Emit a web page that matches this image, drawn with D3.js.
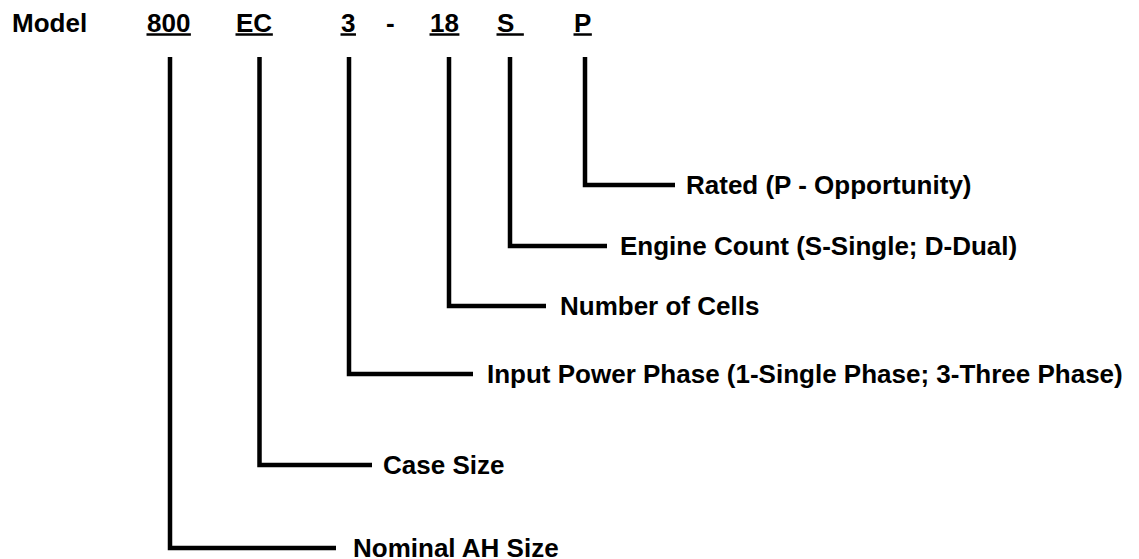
<!DOCTYPE html>
<html>
<head>
<meta charset="utf-8">
<script src="https://cdn.jsdelivr.net/npm/d3@7"></script>
<style>
  html, body { margin: 0; padding: 0; background: #fff; }
  svg { display: block; }
  text { font-family: "Liberation Sans", Arial, sans-serif; font-weight: bold; fill: #000; }
</style>
</head>
<body>
<svg id="chart" width="1139" height="559"></svg>
<script>
// ---- data ----
const title = "Model";
const codes = ["800", "EC", "3", "-", "18", "S", "P"];
const underlined = [true, true, true, false, true, true, true];
const branchCodes = ["800", "EC", "3", "18", "S", "P"];
const descriptions = [
  "Nominal AH Size",
  "Case Size",
  "Input Power Phase (1-Single Phase; 3-Three Phase)",
  "Number of Cells",
  "Engine Count (S-Single; D-Dual)",
  "Rated (P - Opportunity)"
];

// ---- layout (scales) ----
const W = 1139, H = 559;
const codeX = d3.scaleOrdinal().domain(codes).range([147, 236, 341, 386, 430, 497, 574]);
const stemX = d3.scaleOrdinal().domain(branchCodes).range([170, 259.5, 349, 449, 510, 585]);
const elbowY = d3.scaleOrdinal().domain(branchCodes).range([548, 465, 374, 306, 246, 185]);
const armEnd = d3.scaleOrdinal().domain(branchCodes).range([336, 372, 473, 546, 607, 675]);
const labelX = d3.scaleOrdinal().domain(branchCodes).range([353, 383, 487, 560, 620, 686]);
const underlineExtra = d3.scaleOrdinal().domain(codes).range([0, 0, 0, 0, 0, 9, 0]);

const FONT = 26;
const headBaseline = 32;
const stemTop = 57;
const lineW = 4.5;

const svg = d3.select("#chart");

// title
svg.append("text")
  .attr("x", 12).attr("y", headBaseline)
  .attr("font-size", FONT)
  .text(title);

// codes
const codeG = svg.append("g");
codes.forEach((c, i) => {
  const t = codeG.append("text")
    .attr("x", codeX(c)).attr("y", headBaseline)
    .attr("font-size", FONT)
    .text(c);
  if (underlined[i]) {
    const bb = t.node().getBBox();
    codeG.append("line")
      .attr("x1", bb.x - 0.5).attr("x2", bb.x + bb.width + underlineExtra(c) + 0.5)
      .attr("y1", headBaseline + 2.5).attr("y2", headBaseline + 2.5)
      .attr("stroke", "#000").attr("stroke-width", 2.5);
  }
});

// connectors
const linkG = svg.append("g");
branchCodes.forEach((c, i) => {
  linkG.append("path")
    .attr("d", d3.line()([[stemX(c), stemTop], [stemX(c), elbowY(c)], [armEnd(c), elbowY(c)]]))
    .attr("fill", "none").attr("stroke", "#000")
    .attr("stroke-width", lineW).attr("stroke-linejoin", "miter").attr("stroke-linecap", "butt");
  svg.append("text")
    .attr("x", labelX(c)).attr("y", elbowY(c))
    .attr("dy", "0.36em")
    .attr("font-size", FONT)
    .text(descriptions[i]);
});
</script>
</body>
</html>
